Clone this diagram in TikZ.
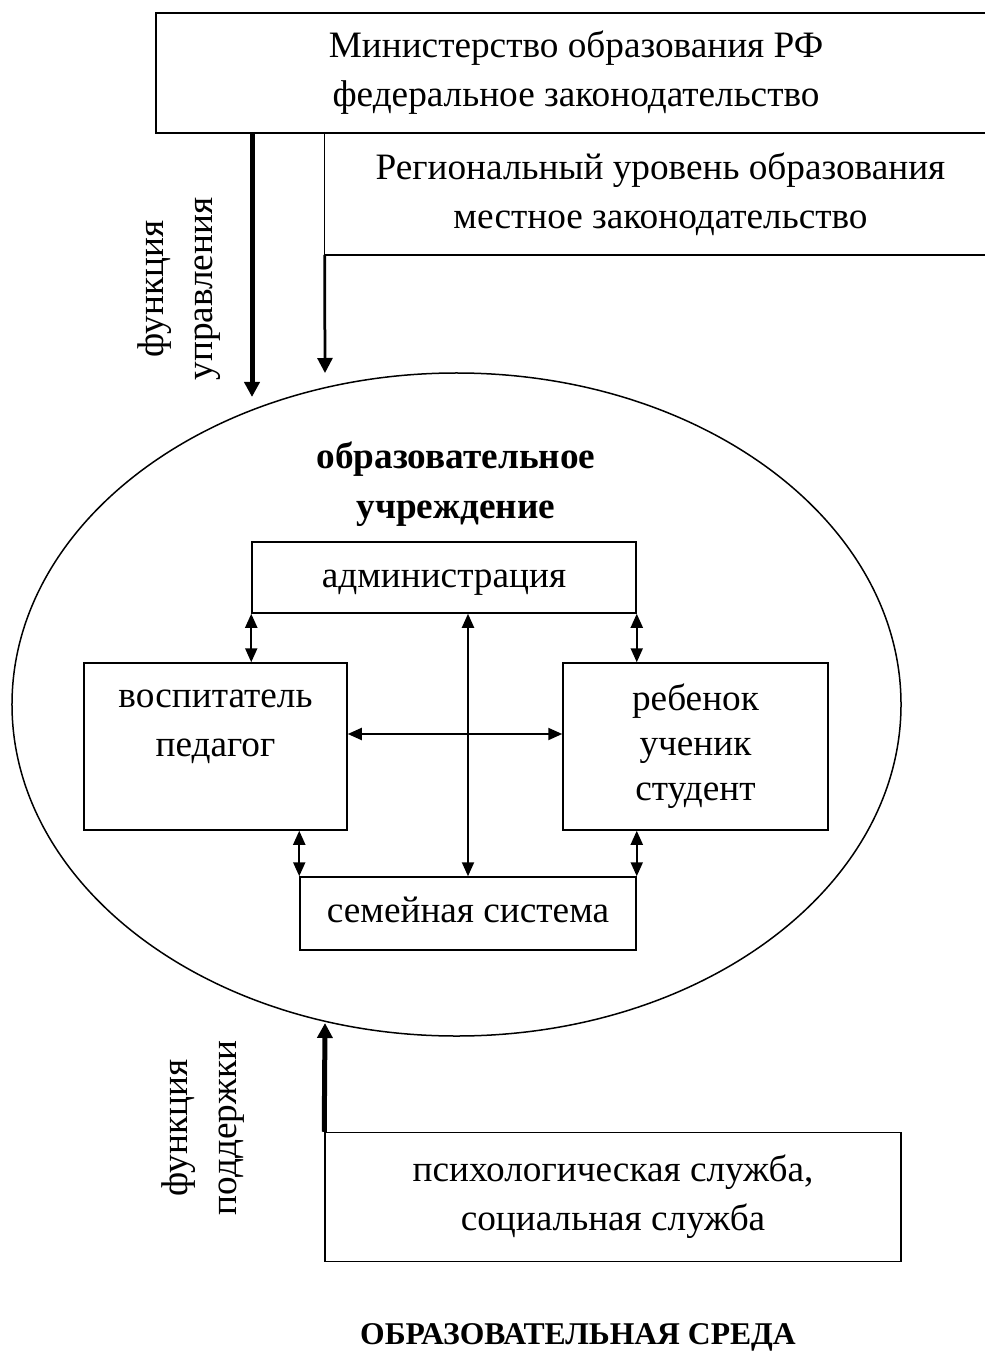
\documentclass[tikz,border=0pt]{standalone}
\usepackage{fontspec}
\setmainfont{Liberation Serif}
\usetikzlibrary{shapes.geometric,arrows.meta}
\tikzset{mybox/.style={
  shape=rectangle,
  draw=black,
  line width=0.3mm,
  align=center,
  inner sep=0pt,
  }
}
\tikzset{mylabel/.style={
  align=center,
  inner sep=0pt,
  }
}
\tikzset{myarrow/.style={
  line width=0.4mm,
  {Triangle[length=2.8mm,width=2.4mm]}-{Triangle[length=2.8mm,width=2.4mm]},
  }
}
\tikzset{mymidarrow/.style={
  line width=0.55mm,
  -{Triangle[length=3mm,width=3mm]},
  }
}
\tikzset{mybigarrow/.style={
  line width=1mm,
  -{Triangle[length=3mm,width=3mm]},
  }
}

\begin{document}
\begin{tikzpicture}[x=0.2mm,y=-0.2mm,font=\fontsize{21.2pt}{27.9pt}\selectfont]
  \useasboundingbox (0,0) rectangle (984,1356);

  % upper level
  \node [mybox, minimum width=168mm, minimum height=24mm] (minobr) at (576,73)
    {Министерство образования РФ\\федеральное законодательство};
  \node [mylabel, minimum width=134.2mm, minimum height=24.2mm] (region) at (660.5,194)
    {Региональный уровень образования\\местное законодательство};
  \draw [line width=0.3mm] (region.north west) |- (region.south east);

  \coordinate (upr) at (252,397);
  \coordinate (reg) at (325,373);
  \draw [mybigarrow] (minobr.south -| upr) -- (upr);
  \draw [mymidarrow] (region.south west) -- (reg);
  \node [mylabel, rotate=90] (fupr) at (179,289) {функция\\управления};

  % institution
  \node [ellipse, draw, line width=0.3mm, minimum width=177.8mm, minimum height=132.6mm, inner sep=0pt] (uchr) at (456.5,704.5) {};
  \node [mylabel, font=\fontsize{21.2pt}{28.5pt}\bfseries] (uchrname) at (456,484)
    {образовательное\\учреждение};

  \node [mybox, minimum width=76.8mm, minimum height=14.2mm, text height=3.8mm, text depth=0mm] (admin) at (444,577.5) {администрация};
  \node [mybox, minimum width=52.6mm, minimum height=33.4mm] (vosp) at (215.5,746.5) {};
  \node [mylabel] (vosptext) at (215.5,727) {воспитатель\\педагог};
  \node [mybox, minimum width=53mm, minimum height=33.4mm, font=\fontsize{21.2pt}{25.6pt}\selectfont] (reb) at (695.5,746.5)
    {ребенок\\ученик\\студент};
  \node [mybox, minimum width=67.2mm, minimum height=14.6mm, text height=3.4mm, text depth=0mm] (sem) at (468,913.5) {семейная система};

  \draw [myarrow] (admin.south west) -- (admin.south west |- vosp.north);
  \draw [myarrow] (admin.south east) -- (admin.south east |- reb.north);
  \draw [myarrow] (sem.north west |- vosp.south) -- (sem.north west);
  \draw [myarrow] (sem.north east |- reb.south) -- (sem.north east);
  \draw [myarrow] (sem.north |- admin.south) -- (sem.north);
  \draw [myarrow] ([yshift=2.5mm]vosp.east) -- ([yshift=2.5mm]reb.west);

  % support
  \node [mybox, minimum width=115.2mm, minimum height=25.8mm] (psych) at (613,1197)
    {психологическая служба,\\социальная служба};
  \coordinate (podd) at (325,1023);
  \draw [mybigarrow] (psych.north west) -- (podd);
  \node [mylabel, rotate=90] (fpodd) at (203,1128) {функция\\поддержки};

  \node [mylabel, font=\fontsize{18pt}{22pt}\bfseries] (sreda) at (578,1337) {ОБРАЗОВАТЕЛЬНАЯ СРЕДА};
\end{tikzpicture}
\end{document}
